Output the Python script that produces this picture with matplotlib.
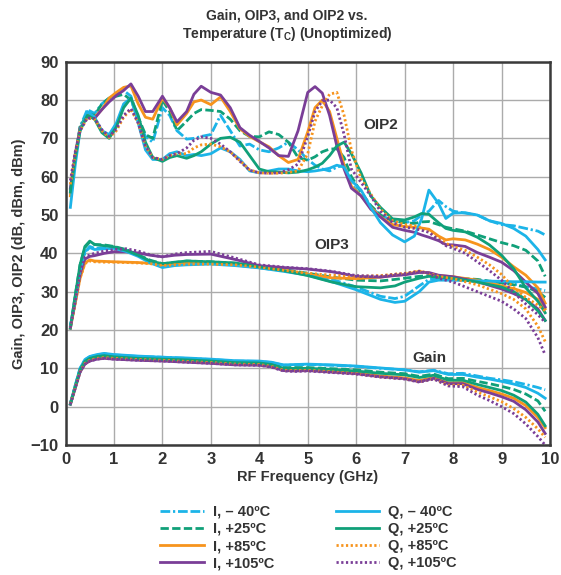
import matplotlib
matplotlib.use("Agg")
from matplotlib import pyplot as plt

plt.rcParams['font.family'] = ['Liberation Sans', 'DejaVu Sans']
plt.rcParams['font.weight'] = 'bold'

TEXT = '#333333'

# frequency grids (GHz)
FREQ_OIP2 = [0.1, 0.2, 0.3, 0.45, 0.6, 0.75, 0.9, 1.05, 1.2, 1.35, 1.5, 1.65, 1.8, 2.0, 2.15, 2.3, 2.5,
             2.65, 2.8, 3.0, 3.2, 3.4, 3.6, 3.8, 4.0, 4.2, 4.4, 4.6, 4.8, 5.0, 5.15, 5.3, 5.45, 5.6,
             5.75, 5.9, 6.1, 6.3, 6.5, 6.75, 7.0, 7.2, 7.35, 7.5, 7.7, 7.85, 8.0, 8.25, 8.5, 8.75,
             9.0, 9.25, 9.5, 9.75, 9.9]
FREQ_OIP3 = [0.1, 0.2, 0.3, 0.4, 0.5, 0.6, 0.8, 1.0, 1.25, 1.5, 1.75, 2.0, 2.25, 2.5, 3.0, 3.5, 4.0,
             4.5, 5.0, 5.5, 6.0, 6.5, 6.8, 7.0, 7.3, 7.5, 7.7, 8.0, 8.5, 9.0, 9.25, 9.5, 9.75, 9.9]
FREQ_GAIN = [0.1, 0.2, 0.3, 0.4, 0.5, 0.65, 0.8, 1.0, 1.5, 2.0, 2.5, 3.0, 3.5, 4.0, 4.25, 4.5, 4.75,
             5.0, 5.5, 6.0, 6.5, 7.0, 7.3, 7.6, 7.9, 8.2, 8.5, 8.75, 9.0, 9.25, 9.5, 9.75, 9.9]

# OIP2 (dBm)
OIP2_I_M40 = [55, 65, 73, 77.5, 76.5, 79, 80.5, 81.5, 82.5, 81, 75, 70.5, 69, 78, 76, 72, 69.8,
              70, 70.5, 71, 76, 72, 68, 68.5, 67, 66.5, 67.5, 69, 67, 64.5, 63, 62, 61.5, 62.5,
              63, 58, 55, 52, 50, 48.5, 48, 48.5, 50, 51, 53.8, 52.2, 51, 50.5, 50, 48.5,
              47.5, 47.2, 46.5, 45.8, 44.8]
OIP2_Q_M40 = [52, 63, 72, 77, 75.5, 72, 71, 74, 79, 80.5, 74, 67, 64.5, 64.5, 66, 66.5, 65.5,
              65.8, 65.5, 66, 67.5, 66.5, 64.5, 61.5, 61, 61.5, 62, 62, 61.5, 61.3, 61.5, 61.8, 62.2, 63,
              62.5, 59, 56.5, 52, 48, 44.8, 43, 44.5, 49, 56.5, 53, 49.1, 50.5, 50.6, 50, 48.5,
              47.8, 46.5, 44.5, 41, 38.3]
OIP2_I_25 = [56, 65, 73, 76.5, 76, 79, 80.5, 81, 81.5, 80, 75.5, 71, 70, 80, 77, 72, 74.5,
             76.5, 77.5, 77.3, 77, 75, 72, 70.5, 70.4, 71.7, 71, 69, 65, 64.3, 65.2, 66.5, 67.2, 67.3,
             65, 60, 56, 52.5, 50, 48.5, 48, 47.8, 48.2, 48.3, 47.5, 46.8, 46.4, 45.8, 44.8, 43.8,
             42.8, 42, 40.8, 38, 34]
OIP2_Q_25 = [56, 65, 72, 76, 75, 71.5, 70, 73, 78, 80.5, 76, 69, 65, 64, 65, 65.5, 64.8,
             65.5, 66.5, 68.5, 70, 70.3, 69, 65.5, 62, 61.3, 61.2, 61, 61.2, 61.8, 62.5, 63.5, 65.5, 68,
             69, 66, 61, 55, 52, 49, 48.7, 49.5, 50.4, 50.2, 48, 46.5, 46, 45.6, 44.2, 42.2,
             39.5, 36, 31, 27.5, 24.5]
OIP2_I_85 = [55, 65, 72.5, 76, 75.5, 77.5, 80.5, 82, 83.3, 83.7, 79, 75.5, 75, 80.5, 78, 73.5, 76.5,
             79.5, 80, 78.8, 80.8, 77, 72.5, 70.5, 69.1, 67.8, 65.5, 63.7, 64.5, 71.7, 78, 80, 77, 70,
             63, 57.5, 55, 52, 49.5, 47.5, 47, 46.8, 46.6, 46.3, 44.5, 43.5, 43.8, 43.5, 42.4, 41,
             39, 36.5, 34.3, 31, 27]
OIP2_Q_85 = [58, 66, 72, 75.3, 75, 72, 70.2, 72, 75.5, 77.6, 74, 68, 65, 64.5, 65.5, 66, 66,
             67.5, 68.3, 68.5, 67.8, 66.5, 64.2, 61.8, 61, 60.9, 60.9, 61.1, 61.5, 66, 74.5, 78.5, 81.5, 82,
             76, 67, 59.5, 55.5, 51.5, 48.5, 47.5, 47.2, 46.6, 46, 44, 42.6, 41.8, 40.8, 39, 37,
             34.5, 31, 28.5, 26.5, 25]
OIP2_I_105 = [57, 66, 72.5, 75.8, 75.2, 77.5, 79.5, 81.2, 82.5, 84.2, 81, 77, 77, 81, 78, 74.3, 77,
              81.5, 83.6, 82, 81.3, 78, 72.8, 70.8, 69.2, 67.5, 65.5, 65.3, 72, 82, 83.5, 81.8, 76, 68,
              62, 57, 55, 51.5, 49.5, 46.8, 46, 45.5, 44.8, 44.2, 43.3, 42.3, 42.2, 41.8, 40.2, 39,
              37.7, 35.5, 32.5, 29.5, 26]
OIP2_Q_105 = [59, 66.5, 72, 75.3, 75.2, 72.3, 70.5, 72.5, 76, 77.8, 74, 68, 65, 64.5, 65.5, 66, 67.5,
              69.5, 70.4, 70, 68.5, 66.5, 64, 61.7, 61, 60.9, 61, 61.8, 63.3, 70.5, 77, 79.8, 80, 78,
              71, 62, 58.5, 55, 51, 48, 46.8, 46.5, 46, 45.5, 43.5, 42, 41.3, 40, 37.8, 35.5,
              33, 29.8, 26.8, 24, 22]

# OIP3 (dBm)
OIP3_I_M40 = [21, 28, 35, 40, 41.8, 41.3, 41.5, 41.5, 40.8, 39.5, 37.8, 36.5, 37, 37.3, 37.5, 37, 36.2,
              35.5, 34.6, 33.2, 31.2, 28.8, 28.2, 28.8, 31.5, 33.2, 33.4, 33.4, 33, 32.5, 32, 31.3, 30.7, 30.3]
OIP3_Q_M40 = [21, 28, 35.5, 40.5, 41.5, 41, 41.2, 41.3, 40.5, 39.2, 37.5, 36.3, 36.8, 37, 37.2, 36.8, 36.2,
              35.3, 34.3, 32.6, 30.5, 28, 27.2, 27.5, 30, 32.5, 33, 33, 32.8, 32.7, 32.6, 32.6, 32.5, 32.5]
OIP3_I_25 = [20.5, 29, 37, 41.5, 43, 42.3, 42.2, 41.8, 41, 39.6, 38.2, 37.3, 37.6, 38, 37.8, 37.4, 36.6,
             35.8, 34.8, 33.8, 33, 32.8, 33.2, 33.5, 34, 34.2, 33.8, 33.6, 33.2, 32.3, 31.8, 31.2, 30, 28.5]
OIP3_Q_25 = [20.5, 29, 37, 41.8, 43.2, 42.3, 42, 41.7, 40.8, 39.5, 38, 37.3, 37.7, 38, 37.8, 37.5, 36.5,
             35.5, 34.2, 32.5, 31.3, 31, 31.5, 32.5, 33.5, 34, 33.8, 33.5, 32.5, 31.2, 30, 28, 25, 22.5]
OIP3_I_85 = [20.5, 27, 33.5, 37.5, 38.3, 38, 37.9, 37.8, 37.7, 37.6, 37.4, 37, 37.2, 37.4, 37.3, 37, 36.3,
             35.6, 34.5, 33.6, 33.4, 33.8, 34.3, 34.5, 35.3, 34.8, 34.2, 33.9, 33, 31.5, 30.8, 29.8, 28, 25.5]
OIP3_Q_85 = [20.5, 27, 33.5, 37.3, 38, 37.8, 37.7, 37.7, 37.6, 37.5, 37.3, 36.8, 37, 37.2, 37.2, 37, 36.4,
             35.6, 34.8, 34.3, 34, 34.2, 34.6, 34.8, 35.4, 34.8, 34, 33.4, 31.8, 29.5, 28, 25.5, 21, 17]
OIP3_I_105 = [20.5, 27.5, 34.5, 38.5, 39.2, 39.4, 40, 40.4, 40.4, 40.1, 39.5, 39.1, 39.5, 39.7, 39.8, 38.4, 36.8,
              36.3, 35.9, 35.2, 34, 33.8, 34.2, 34.4, 35, 35, 34.3, 33.9, 32.6, 30.7, 29.5, 28, 25.5, 22.5]
OIP3_Q_105 = [20.5, 27.5, 34.5, 39, 39.6, 40, 40.6, 41, 41.2, 40.6, 39.6, 39.1, 39.8, 40.2, 40.5, 38.8, 37,
              36.4, 36, 35.3, 34.2, 34, 34.5, 34.7, 35.3, 34.8, 33.5, 32.5, 30, 27.5, 25.5, 23, 18, 13.5]

# Gain (dB)
GAIN_I_M40 = [0.8, 5.5, 10, 12.2, 13, 13.5, 13.8, 13.5, 13.1, 12.9, 12.6, 12.3, 11.9, 11.8, 11.5, 10.8, 10.9,
              11, 10.8, 10.5, 10, 9.6, 9.1, 9.5, 8.6, 8.7, 8, 7.4, 7, 6.5, 5.8, 5, 4.4]
GAIN_Q_M40 = [0.8, 5.5, 10, 12.3, 13.1, 13.6, 13.9, 13.6, 13.2, 12.9, 12.7, 12.4, 12, 11.9, 11.6, 10.9, 11,
              11.1, 10.9, 10.6, 10.1, 9.6, 9, 9.4, 8.4, 8.4, 7.7, 7.2, 6.6, 5.9, 5, 3.5, 2.2]
GAIN_I_25 = [0.7, 5.2, 9.6, 11.8, 12.6, 13.1, 13.3, 13, 12.6, 12.4, 12.2, 11.9, 11.5, 11.4, 11.1, 10.2, 10.2,
             10.2, 9.9, 9.6, 9, 8.6, 7.9, 8.5, 7.3, 7.4, 6.6, 6, 5.3, 4.5, 3.3, 1.5, -1.2]
GAIN_Q_25 = [0.7, 5.2, 9.6, 11.8, 12.6, 13.1, 13.3, 13, 12.6, 12.4, 12.2, 11.9, 11.5, 11.4, 11, 10, 10,
             10, 9.7, 9.3, 8.7, 8.3, 7.6, 8.2, 6.9, 6.9, 5.8, 5, 4.2, 3, 1.2, -2, -5]
GAIN_I_85 = [0.7, 5, 9.2, 11.3, 12.1, 12.6, 12.8, 12.6, 12.3, 12.1, 11.8, 11.5, 11.1, 11, 10.6, 9.6, 9.5,
             9.6, 9.2, 8.8, 8, 7.5, 6.8, 7.6, 6.2, 6.3, 5, 4.2, 3.3, 2.2, 0.3, -2.8, -5.5]
GAIN_Q_85 = [0.7, 5, 9.2, 11.3, 12.1, 12.6, 12.8, 12.6, 12.3, 12.1, 11.8, 11.5, 11.1, 11, 10.5, 9.5, 9.4,
             9.5, 9.1, 8.6, 7.8, 7.3, 6.5, 7.3, 5.6, 5.6, 3.8, 2.6, 1.3, -0.5, -2.8, -5.8, -8]
GAIN_I_105 = [0.6, 4.8, 9, 11.1, 11.9, 12.4, 12.6, 12.4, 12.1, 11.9, 11.6, 11.3, 10.9, 10.8, 10.4, 9.4, 9.3,
              9.4, 9, 8.6, 7.8, 7.3, 6.5, 7.4, 6, 6, 4.5, 3.6, 2.6, 1.4, -0.8, -4, -7]
GAIN_Q_105 = [0.6, 4.8, 9, 11.1, 11.9, 12.4, 12.6, 12.4, 12.1, 11.9, 11.6, 11.3, 10.9, 10.8, 10.3, 9.3, 9.2,
              9.3, 8.9, 8.5, 7.7, 7.2, 6.4, 7.2, 5.4, 5.2, 3, 1.6, 0, -1.8, -4.5, -7.8, -10]

LABELS = ['I, \u2013 40ºC', 'I, +25ºC', 'I, +85ºC', 'I, +105ºC',
          'Q, \u2013 40ºC', 'Q, +25ºC', 'Q, +85ºC', 'Q, +105ºC']

CYAN = '#1cb4e8'
GREEN = '#10a079'
ORANGE = '#f7941d'
PURPLE = '#7a3e97'

# colour and dash pattern per series, same order as LABELS
STYLES = [
    (CYAN, (0, (3.5, 1.0, 0.8, 1.0, 3.5, 1.0))),
    (GREEN, (0, (3.0, 1.2))),
    (ORANGE, '-'),
    (PURPLE, '-'),
    (CYAN, '-'),
    (GREEN, '-'),
    (ORANGE, (0, (0.8, 0.9))),
    (PURPLE, (0, (0.8, 0.9))),
]

OIP2 = [OIP2_I_M40, OIP2_I_25, OIP2_I_85, OIP2_I_105, OIP2_Q_M40, OIP2_Q_25, OIP2_Q_85, OIP2_Q_105]
OIP3 = [OIP3_I_M40, OIP3_I_25, OIP3_I_85, OIP3_I_105, OIP3_Q_M40, OIP3_Q_25, OIP3_Q_85, OIP3_Q_105]
GAIN = [GAIN_I_M40, GAIN_I_25, GAIN_I_85, GAIN_I_105, GAIN_Q_M40, GAIN_Q_25, GAIN_Q_85, GAIN_Q_105]

fig = plt.figure(figsize=(5.61, 5.75), dpi=100)
ax = fig.add_axes([0.1168, 0.2261, 0.8636, 0.6666])

handles = []
for i, (color, ls) in enumerate(STYLES):
    for freq, curves in ((FREQ_GAIN, GAIN), (FREQ_OIP3, OIP3), (FREQ_OIP2, OIP2)):
        line, = ax.plot(freq, curves[i], color=color, linestyle=ls, linewidth=2.0,
                        solid_joinstyle='round', dash_capstyle='butt')
    handles.append(line)

ax.set_xlim(0, 10)
ax.set_ylim(-10, 90)
ax.set_xticks(range(0, 11))
ax.set_yticks(range(-10, 91, 10))
ax.grid(True, color='#ababab', linewidth=1.0)
ax.set_axisbelow(True)
ax.tick_params(length=0, labelsize=12, labelcolor=TEXT, pad=5)
for lab in ax.get_xticklabels() + ax.get_yticklabels():
    lab.set_fontweight('bold')
for spine in ax.spines.values():
    spine.set_color('#3a3a3a')
    spine.set_linewidth(1.8)

ax.set_xlabel('RF Frequency (GHz)', fontsize=10.5, fontweight='bold', color=TEXT, labelpad=2)
ax.set_ylabel('Gain, OIP3, OIP2 (dB, dBm, dBm)', fontsize=10.5, fontweight='bold', color=TEXT, labelpad=3)

# curve group labels
ax.text(6.5, 73.5, 'OIP2', fontsize=11, fontweight='bold', color=TEXT, ha='center', va='center')
ax.text(5.49, 42.2, 'OIP3', fontsize=11, fontweight='bold', color=TEXT, ha='center', va='center')
ax.text(7.51, 12.6, 'Gain', fontsize=11, fontweight='bold', color=TEXT, ha='center', va='center')

fig.text(0.512, 0.955, 'Gain, OIP3, and OIP2 vs.\nTemperature (T$_\\mathregular{C}$) (Unoptimized)',
         fontsize=10, fontweight='bold', color=TEXT, ha='center', va='center', linespacing=1.2)

fig.legend(handles, LABELS, ncol=2, loc='upper center', bbox_to_anchor=(0.55, 0.145),
           frameon=False, labelcolor=TEXT, handlelength=3.0,
           handletextpad=0.6, columnspacing=4.2, labelspacing=0.22,
           prop={'weight': 'bold', 'size': 10.5})

fig.savefig('out.png', dpi=100)
